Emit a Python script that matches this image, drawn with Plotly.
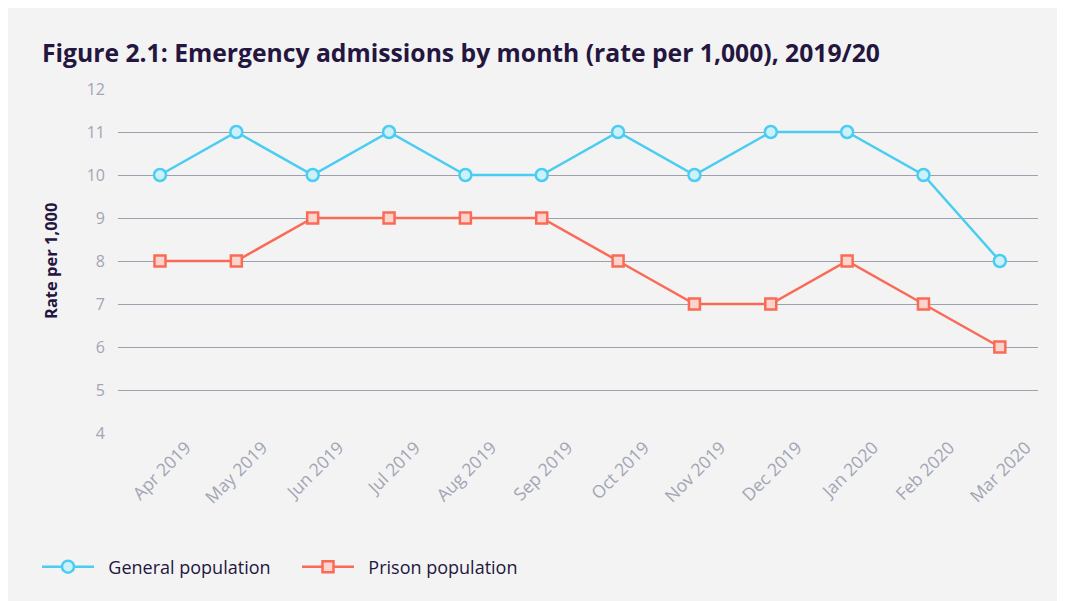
import plotly.graph_objects as go

months = ['Apr 2019', 'May 2019', 'Jun 2019', 'Jul 2019', 'Aug 2019', 'Sep 2019',
          'Oct 2019', 'Nov 2019', 'Dec 2019', 'Jan 2020', 'Feb 2020', 'Mar 2020']
general_rate = [10, 11, 10, 11, 10, 10, 11, 10, 11, 11, 10, 8]
prison_rate = [8, 8, 9, 9, 9, 9, 8, 7, 7, 8, 7, 6]
y_ticks = [4, 5, 6, 7, 8, 9, 10, 11, 12]

# figure sits 8px in from the page corner (body margin)
W, H = 1065, 593
L, R, T, B = 110, 35, 81, 168
PW, PH = W - L - R, H - T - B

def px_x(p):
    return (p - L) / PW

def px_y(p):
    return (H - B - p) / PH

TEXT = '#24163f'
GRID = '#9da0ae'
TICK = '#a2a5b3'
CYAN = '#4bcdf2'
RED = '#fa6b57'
FONT = 'Open Sans'
PAD = '\u00a0\u00a0'  # small gap between legend symbol and text

fig = go.Figure()

fig.add_trace(go.Scatter(
    x=months, y=general_rate, mode='lines+markers', name=PAD + 'General population',
    line=dict(color=CYAN, width=2.5),
    marker=dict(symbol='circle', size=12, color='#cdf1fb', line=dict(color=CYAN, width=2.5))
))

fig.add_trace(go.Scatter(
    x=months, y=prison_rate, mode='lines+markers', name=PAD + 'Prison population',
    line=dict(color=RED, width=2.5),
    marker=dict(symbol='square', size=11, color='#fdd3cd', line=dict(color=RED, width=2.5))
))

fig.add_annotation(text='Rate per 1,000', textangle=-90, showarrow=False,
                   xref='paper', yref='paper', x=px_x(42), y=px_y(253),
                   xanchor='center', yanchor='middle',
                   font=dict(family=FONT, size=16.5, color=TEXT, weight='bold'))

fig.update_layout(
    width=W, height=H,
    margin=dict(l=L, r=R, t=T, b=B),
    paper_bgcolor='#f3f3f3',
    plot_bgcolor='#f3f3f3',
    title=dict(text='Figure 2.1: Emergency admissions by month (rate per 1,000), 2019/20',
               x=34 / W, xanchor='left', y=1 - 45 / H, yanchor='middle',
               font=dict(family=FONT, size=24.7, color=TEXT, weight='bold')),
    xaxis=dict(
        type='category', range=[-0.55, 11.5],
        showgrid=False, showline=False, zeroline=False, ticks='',
        tickangle=-45, ticklabelshift=26,
        tickfont=dict(family=FONT, size=17.5, color=TICK)
    ),
    yaxis=dict(
        range=[4, 12], tickvals=y_ticks, showgrid=True, gridcolor=GRID, gridwidth=1,
        zeroline=False, showline=False, ticks='', ticklabelstandoff=12,
        tickfont=dict(family=FONT, size=16, color=TICK)
    ),
    legend=dict(orientation='h', x=px_x(29), xanchor='left', y=px_y(559), yanchor='middle',
                font=dict(family=FONT, size=18, color=TEXT),
                itemwidth=52, entrywidth=193, bgcolor='rgba(0,0,0,0)'),
)

fig.write_html("out.html")
